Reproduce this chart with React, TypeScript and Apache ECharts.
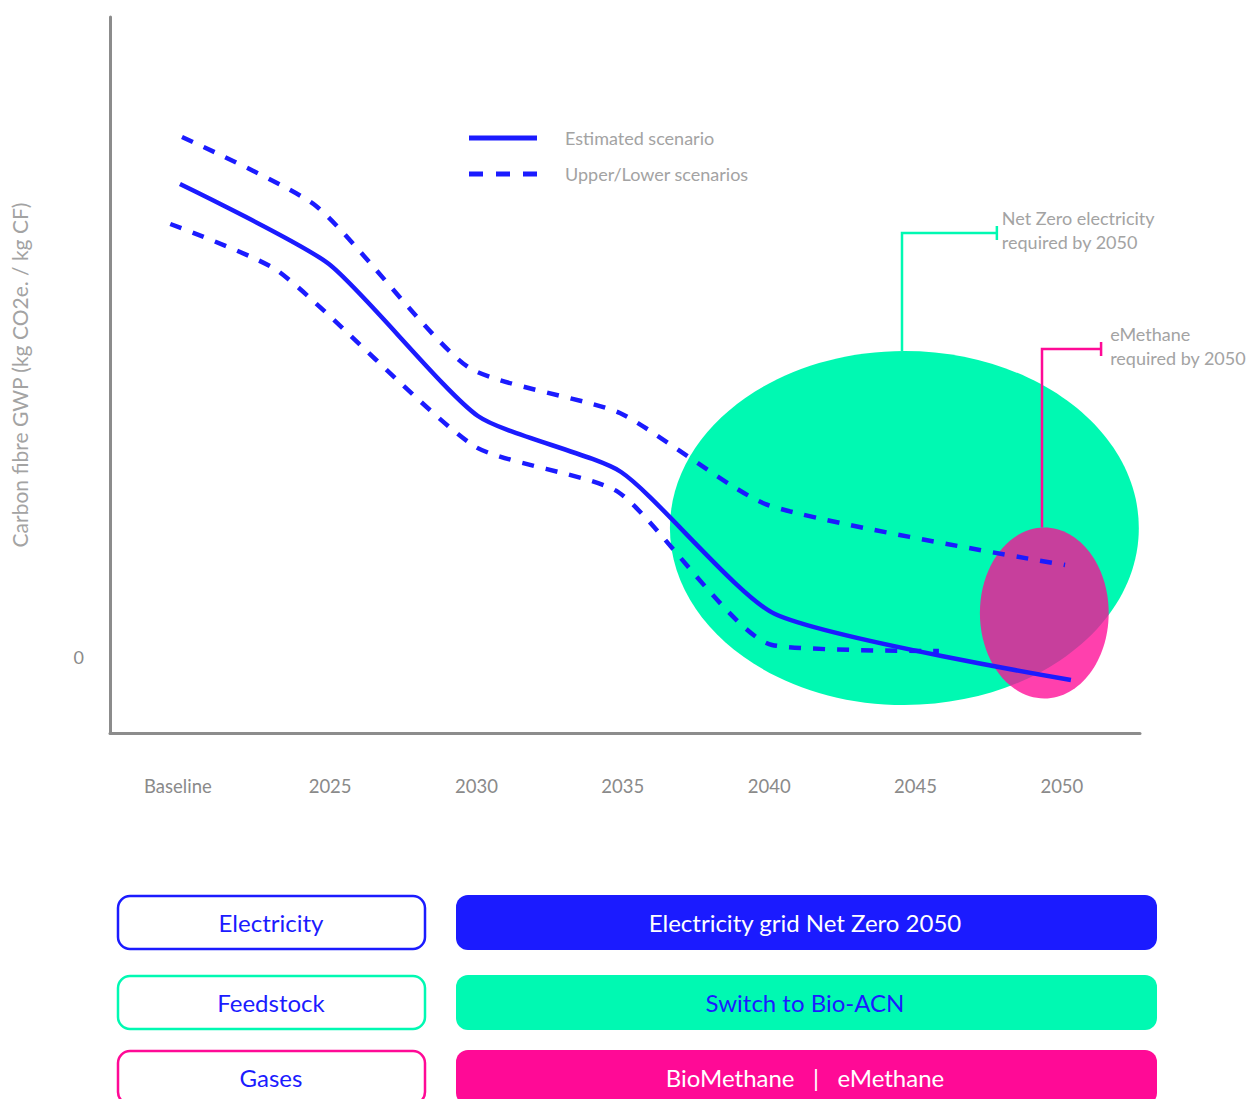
import React, { useEffect, useRef } from "react";
import * as echarts from "echarts";

// ---------- data ----------
const TICK_YEARS = [2019.8, 2025, 2030, 2035, 2040, 2045, 2050];
const TICK_LABELS = ["Baseline", "2025", "2030", "2035", "2040", "2045", "2050"];
const Y_TICKS = [0];

// [year, GWP index]
const ESTIMATED = [
  [2019.87, 23.65],
  [2024.96, 19.65],
  [2030.05, 12.05],
  [2034.94, 9.25],
  [2040.2, 2.15],
  [2050.31, -1.15],
];
const UPPER = [
  [2019.94, 26.0],
  [2024.52, 22.55],
  [2029.71, 14.5],
  [2034.9, 12.2],
  [2039.96, 7.6],
  [2050.11, 4.6],
];
const LOWER = [
  [2019.54, 21.65],
  [2023.22, 19.3],
  [2029.92, 10.55],
  [2034.84, 8.25],
  [2040.1, 0.6],
  [2045.8, 0.3],
];

// requirement zones (ellipses in data space) and their call-outs
const ZONE_NAMES = ["Net Zero electricity", "eMethane"];
const ZONE_CX = [2044.62, 2049.4];
const ZONE_CY = [6.45, 2.2];
const ZONE_RX = [8.01, 2.2];
const ZONE_RY = [8.85, 4.275];
const CALLOUT_Y = [21.2, 15.4];
const CALLOUT_END_X = [2047.78, 2051.34];
const CALLOUT_TEXT_X = [2047.95, 2051.65];
const CALLOUT_TEXT = [
  ["Net Zero electricity", "required by 2050"],
  ["eMethane", "required by 2050"],
];

const LEVER_LABELS = ["Electricity", "Feedstock", "Gases"];
const LEVER_ACTIONS = ["Electricity grid Net Zero 2050", "Switch to Bio-ACN", "BioMethane   |   eMethane"];

// ---------- styles ----------
const BLUE = "#1b1bff";
const GREEN = "#00f9b2";
const PINK = "#ff0a96";
const AXIS_GREY = "#8c8c8c";
const LABEL_GREY = "#8a8a8a";
const LIGHT_GREY = "#a3a3a3";
const FONT = "Lato, 'Noto Sans', sans-serif";

const ZONE_COLORS = [GREEN, PINK];
const ZONE_OPACITY = [1, 0.78];
const LEVER_COLORS = [BLUE, GREEN, PINK];
const ACTION_TEXT_COLORS = ["#ffffff", BLUE, "#ffffff"];
const ROW_TOPS = [895, 975, 1050];

const SOLID_ICON = "path://M0,0H68V5H0Z";
const DASH_ICON = "path://M0,0H14V5H0Z M27,0H41V5H27Z M54,0H68V5H54Z";

export default function App() {
  const ref = useRef<HTMLDivElement>(null);

  useEffect(() => {
    if (!ref.current) return;
    const chart = echarts.init(ref.current, null, { renderer: "svg" });

    const boxGraphics: any[] = [];
    LEVER_LABELS.forEach((label, i) => {
      const top = ROW_TOPS[i];
      boxGraphics.push({
        type: "rect",
        shape: { x: 118, y: top + 1, width: 307, height: 53, r: 12 },
        style: { fill: "#ffffff", stroke: LEVER_COLORS[i], lineWidth: 2.5 },
      });
      boxGraphics.push({
        type: "text",
        x: 271,
        y: top + 27,
        style: {
          text: label,
          fill: BLUE,
          fontSize: 24,
          fontFamily: FONT,
          textAlign: "center",
          textVerticalAlign: "middle",
          align: "center",
          verticalAlign: "middle",
        },
      });
      boxGraphics.push({
        type: "rect",
        shape: { x: 456, y: top, width: 701, height: 55, r: 12 },
        style: { fill: LEVER_COLORS[i] },
      });
      boxGraphics.push({
        type: "text",
        x: 805,
        y: top + 27,
        style: {
          text: LEVER_ACTIONS[i],
          fill: ACTION_TEXT_COLORS[i],
          fontSize: 24,
          fontFamily: FONT,
          textAlign: "center",
          textVerticalAlign: "middle",
          align: "center",
          verticalAlign: "middle",
        },
      });
    });

    const zoneData = ZONE_NAMES.map((n, i) => ({
      name: n,
      value: [ZONE_CX[i], ZONE_CY[i], ZONE_RX[i], ZONE_RY[i]],
    }));

    chart.setOption({
      animation: false,
      textStyle: { fontFamily: FONT },
      grid: { left: 110, top: 17, width: 1030, height: 716, containLabel: false },
      legend: {
        orient: "vertical",
        left: 469,
        top: 129,
        padding: 0,
        itemWidth: 68,
        itemHeight: 5,
        itemGap: 18,
        data: [
          { name: "Estimated scenario", icon: SOLID_ICON },
          { name: "Upper/Lower scenarios", icon: DASH_ICON },
        ],
        textStyle: {
          color: LIGHT_GREY,
          fontSize: 18,
          lineHeight: 18,
          fontFamily: FONT,
          padding: [0, 0, 0, 23],
        },
      },
      xAxis: {
        type: "value",
        min: 2017.48,
        max: 2052.67,
        axisLine: { onZero: false, lineStyle: { color: AXIS_GREY, width: 3 } },
        axisTick: { show: false },
        splitLine: { show: false },
        axisLabel: {
          customValues: TICK_YEARS,
          formatter: (v: number) => {
            let best = 0;
            TICK_YEARS.forEach((t, k) => {
              if (Math.abs(t - v) < Math.abs(TICK_YEARS[best] - v)) best = k;
            });
            return TICK_LABELS[best];
          },
          color: LABEL_GREY,
          fontSize: 18.5,
          fontFamily: FONT,
          margin: 43,
        },
      },
      yAxis: {
        type: "value",
        min: -3.8,
        max: 32,
        name: "Carbon fibre GWP (kg CO2e. / kg CF)",
        nameLocation: "middle",
        nameGap: 80,
        nameTextStyle: { color: LIGHT_GREY, fontSize: 21, fontFamily: FONT },
        axisLine: { show: true, onZero: false, lineStyle: { color: AXIS_GREY, width: 3 } },
        axisTick: { show: false },
        splitLine: { show: false },
        axisLabel: {
          customValues: Y_TICKS,
          color: LABEL_GREY,
          fontSize: 18,
          fontFamily: FONT,
          margin: 26,
        },
      },
      graphic: boxGraphics,
      series: [
        {
          name: "Requirement zones",
          type: "custom",
          z: 1,
          silent: true,
          data: zoneData,
          renderItem: (params: any, api: any) => {
            const i = params.dataIndex;
            const c = api.coord([api.value(0), api.value(1)]);
            const s = api.size([api.value(2), api.value(3)]);
            const elbow = api.coord([api.value(0), CALLOUT_Y[i]]);
            const end = api.coord([CALLOUT_END_X[i], CALLOUT_Y[i]]);
            const tp = api.coord([CALLOUT_TEXT_X[i], CALLOUT_Y[i]]);
            const col = ZONE_COLORS[i];
            const lx = Math.round(c[0]) - 2;
            return {
              type: "group",
              children: [
                {
                  type: "ellipse",
                  shape: { cx: c[0], cy: c[1], rx: s[0], ry: s[1] },
                  style: { fill: col, opacity: ZONE_OPACITY[i] },
                },
                {
                  type: "polyline",
                  shape: { points: [[lx, c[1] - s[1]], [lx, elbow[1]], [end[0], end[1]]] },
                  style: { stroke: col, lineWidth: 2.5, fill: null },
                },
                {
                  type: "line",
                  shape: { x1: end[0], y1: end[1] - 7, x2: end[0], y2: end[1] + 7 },
                  style: { stroke: col, lineWidth: 2.5 },
                },
                {
                  type: "text",
                  x: tp[0],
                  y: tp[1] - 3,
                  style: {
                    text: CALLOUT_TEXT[i].join("\n"),
                    fill: LIGHT_GREY,
                    fontSize: 18,
                    fontFamily: FONT,
                    lineHeight: 24,
                    align: "left",
                    verticalAlign: "middle",
                  },
                },
              ],
            };
          },
        },
        {
          name: "Estimated scenario",
          type: "line",
          z: 3,
          data: ESTIMATED,
          symbol: "none",
          smooth: 0.2,
          lineStyle: { color: BLUE, width: 4.5, type: "solid" },
          itemStyle: { color: BLUE },
        },
        {
          name: "Upper/Lower scenarios",
          type: "line",
          z: 3,
          data: UPPER,
          symbol: "none",
          smooth: 0.2,
          lineStyle: { color: BLUE, width: 4.5, type: [12, 12] },
          itemStyle: { color: BLUE },
        },
        {
          name: "Upper/Lower scenarios",
          type: "line",
          z: 3,
          data: LOWER,
          symbol: "none",
          smooth: 0.2,
          lineStyle: { color: BLUE, width: 4.5, type: [12, 12] },
          itemStyle: { color: BLUE },
        },
      ],
    });

    return () => chart.dispose();
  }, []);

  return (
    <div
      ref={ref}
      style={{ position: "absolute", left: 0, top: 0, width: 1250, height: 1099, background: "#ffffff" }}
    />
  );
}
